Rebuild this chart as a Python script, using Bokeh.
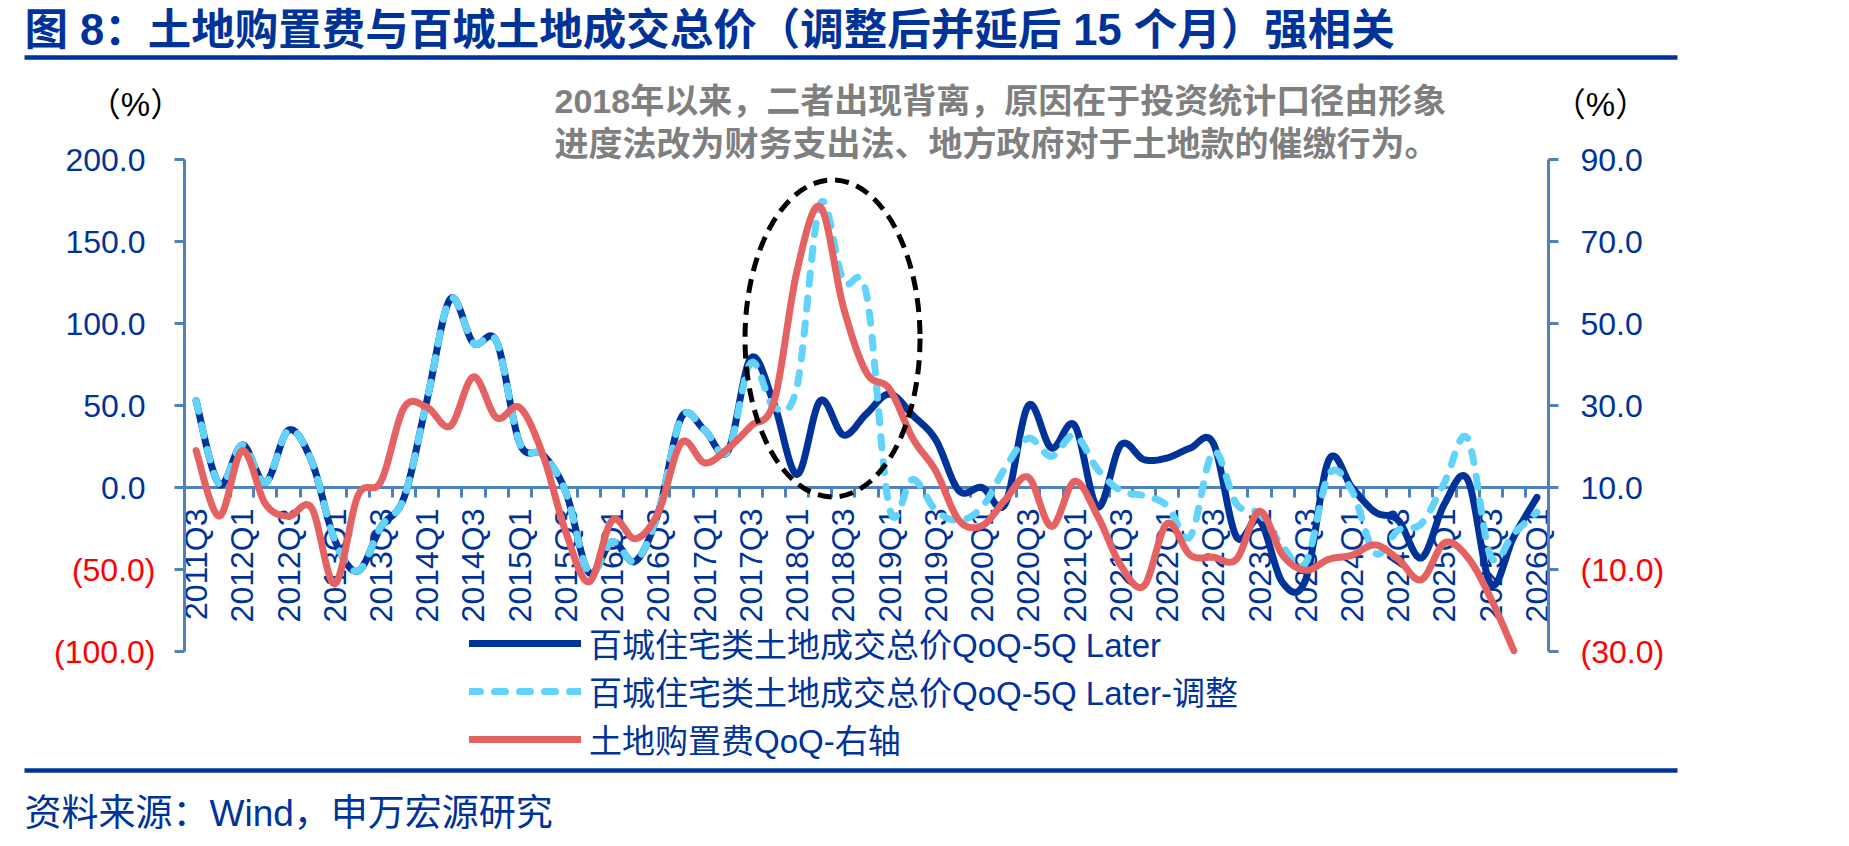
import math
import numpy as np
from bokeh.plotting import figure
from bokeh.models import (Range1d, LinearAxis, FixedTicker, Label, BoxAnnotation,
                          Legend, LegendItem)
from bokeh.embed import file_html
from bokeh.resources import INLINE

# ---------------- data ----------------
quarters = [f"{y}Q{q}" for y in range(2011, 2027) for q in range(1, 5)][2:61]

# 百城住宅类土地成交总价 QoQ, shifted 5 quarters later (%), left axis
land_deal = [53, 2, 26, 3, 35, 16, -32, -51, -24, -6,
             54, 115, 88, 89, 27, 20, -3, -52, -33, -45,
             -15, 43, 35, 22, 79, 51, 8, 53, 32, 45,
             57, 44, 29, -2, 0, -10, 50, 24, 38, -12,
             26, 17, 18, 24, 27, -30, -20, -58, -56, 17,
             0, -15, -20, -43, -10, 5, -59, -30, -6]

# same series, adjusted (%), left axis
land_deal_adj = [53, 2, 26, 3, 35, 16, -32, -51, -24, -6,
                 54, 115, 88, 89, 27, 20, -3, -52, -33, -45,
                 -15, 43, 35, 22, 76, 49, 62, 173, 126, 118,
                 -13, 5, -14, -20, -12, 12, 30, 19, 32, 11,
                 -2, -5, -11, -30, 22, -10, -16, -36, -46, 8,
                 -2, -40, -26, -22, 3, 30, -42, -28, -15]

# 土地购置费 QoQ (%), right axis
land_purchase = [19, 3, 19, 6, 3, 5, -13.5, 8, 11.5, 29.5,
                 29.5, 25, 37, 27, 29.5, 18, -1, -13, 2, -2.5,
                 4, 21, 16, 19.5, 25, 31, 63, 78.5, 54, 38,
                 34, 22, 14, 2, 0.7, 7, 12.5, 0.5, 11.5, 3,
                 -9, -14, 1.2, -6.5, -7, -7.5, 4.2, -6.5, -10.2, -7.5,
                 -6.5, -4, -7.5, -12.5, -3.5, -7, -17, -29.8]

left_ticks = [-100, -50, 0, 50, 100, 150, 200]
right_ticks = [-30, -10, 10, 30, 50, 70, 90]

names = ["百城住宅类土地成交总价QoQ-5Q Later",
         "百城住宅类土地成交总价QoQ-5Q Later-调整",
         "土地购置费QoQ-右轴"]

# ---------------- style ----------------
NAVY = "#003399"
CYAN = "#62D3FB"
RED = "#E46262"
AXIS = "#4F81BD"
LATIN = "Liberation Sans"
MIXED = "Liberation Sans, Noto Sans CJK SC"
LW = 7

W, H = 1849, 846
# plot box on the page (pixels): left, right, top, bottom
BOX_L, BOX_R, BOX_T, BOX_B = 184, 1548, 159, 651


def smooth(xs, ys, steps=14):
    """Cubic Bezier smoothing through every point (Catmull-Rom style)."""
    pts = np.column_stack([xs, ys]).astype(float)
    n = len(pts)
    out = []
    for k in range(n - 1):
        p0 = pts[k - 1] if k > 0 else pts[k]
        p1, p2 = pts[k], pts[k + 1]
        p3 = pts[k + 2] if k + 2 < n else pts[k + 1]
        c1 = p1 + (p2 - p0) / 6.0
        c2 = p2 - (p3 - p1) / 6.0
        for s in range(steps):
            t = s / steps
            b = ((1 - t) ** 3) * p1 + 3 * ((1 - t) ** 2) * t * c1 \
                + 3 * (1 - t) * t * t * c2 + t ** 3 * p2
            out.append(b)
    out.append(pts[-1])
    out = np.array(out)
    return out[:, 0], out[:, 1]


def span_range(lo, hi, px_lo, px_hi, total, flip=False):
    """Range whose [lo, hi] lands on pixels [px_lo, px_hi] of a `total`-pixel canvas."""
    per_px = (hi - lo) / (px_hi - px_lo)
    if flip:   # vertical: pixel 0 at the top
        return Range1d(lo - (total - px_hi) * per_px, hi + px_lo * per_px)
    return Range1d(lo - px_lo * per_px, hi + (total - px_hi) * per_px)


n_cat = len(quarters)
centers = [i + 0.5 for i in range(n_cat)]

p = figure(width=W, height=H, output_backend="svg", toolbar_location=None,
           x_range=span_range(0, n_cat, BOX_L, BOX_R, W),
           y_range=span_range(left_ticks[0], left_ticks[-1], BOX_T, BOX_B, H, flip=True),
           min_border=0)
p.outline_line_color = None
p.grid.visible = False
p.background_fill_color = "white"
p.border_fill_color = "white"
p.extra_y_ranges = {"right": span_range(right_ticks[0], right_ticks[-1], BOX_T, BOX_B, H, flip=True)}

# ---- x axis crossing at zero ----
xa = p.xaxis[0]
xa.fixed_location = 0
xa.bounds = (0, n_cat)
xa.ticker = FixedTicker(ticks=[c for i, c in enumerate(centers) if i % 2 == 0],
                        minor_ticks=list(range(n_cat + 1)))
xa.major_label_overrides = {c: q for i, (c, q) in enumerate(zip(centers, quarters)) if i % 2 == 0}
xa.major_label_orientation = math.pi / 2
xa.major_tick_in = 0
xa.major_tick_out = 0
xa.minor_tick_in = 0
xa.minor_tick_out = 10
xa.minor_tick_line_color = AXIS
xa.minor_tick_line_width = 3
xa.axis_line_color = AXIS
xa.axis_line_width = 3
xa.major_label_standoff = 11
xa.major_label_text_font = LATIN
xa.major_label_text_font_size = "32px"
xa.major_label_text_color = NAVY

# ---- left axis ----
ya = p.yaxis[0]
ya.fixed_location = 0
ya.bounds = (left_ticks[0], left_ticks[-1])
ya.ticker = FixedTicker(ticks=left_ticks, minor_ticks=[])
ya.major_label_overrides = {t: (f"{t:.1f}" if t >= 0 else "") for t in left_ticks}
ya.axis_line_color = AXIS
ya.axis_line_width = 3
ya.major_tick_line_color = AXIS
ya.major_tick_line_width = 3
ya.major_tick_in = 0
ya.major_tick_out = 10
ya.minor_tick_out = 0
ya.major_label_standoff = 29
ya.major_label_text_font = LATIN
ya.major_label_text_font_size = "32px"
ya.major_label_text_color = NAVY

# ---- right axis ----
yr = LinearAxis(y_range_name="right", ticker=FixedTicker(ticks=right_ticks, minor_ticks=[]))
yr.fixed_location = n_cat
yr.bounds = (right_ticks[0], right_ticks[-1])
yr.major_label_overrides = {t: (f"{t:.1f}" if t >= 0 else "") for t in right_ticks}
yr.axis_line_color = AXIS
yr.axis_line_width = 3
yr.major_tick_line_color = AXIS
yr.major_tick_line_width = 3
yr.major_tick_in = 0
yr.major_tick_out = 10
yr.minor_tick_out = 0
yr.major_label_standoff = 22
yr.major_label_text_font = LATIN
yr.major_label_text_font_size = "32px"
yr.major_label_text_color = NAVY
p.add_layout(yr, "right")

# negative tick values in red with accounting brackets
for t in left_ticks:
    if t < 0:
        p.add_layout(Label(x=BOX_L - 29, y=t, x_units="screen", y_units="data",
                           text=f"({abs(t):.1f})", text_align="right", text_baseline="middle",
                           text_font=LATIN, text_font_size="32px", text_color="#FF0000"))
for t in right_ticks:
    if t < 0:
        p.add_layout(Label(x=BOX_R + 32, y=t, x_units="screen", y_units="data",
                           y_range_name="right",
                           text=f"({abs(t):.1f})", text_align="left", text_baseline="middle",
                           text_font=LATIN, text_font_size="32px", text_color="#FF0000"))

# ---- series ----
bx, by = smooth(centers, land_deal)
r_blue = p.line(bx, by, line_color=NAVY, line_width=LW, line_join="round", line_cap="round")
cx, cy = smooth(centers, land_deal_adj)
r_cyan = p.line(cx, cy, line_color=CYAN, line_width=LW, line_dash="11 14", line_cap="round",
                line_join="round")
rx, ry = smooth(centers[:len(land_purchase)], land_purchase)
r_red = p.line(rx, ry, line_color=RED, line_width=LW, line_join="round", line_cap="round",
               y_range_name="right")
for r in (r_blue, r_cyan, r_red):
    r.level = "overlay"

# highlight of the 2018 divergence
r_ell = p.ellipse(x=28.03, y=90.9, width=7.57, height=193.3, fill_color=None,
                  line_color="black", line_width=5, line_dash="14 8")
r_ell.level = "overlay"

# ---- legend below the plot ----
legend = Legend(items=[LegendItem(label=names[0], renderers=[r_blue]),
                       LegendItem(label=names[1], renderers=[r_cyan]),
                       LegendItem(label=names[2], renderers=[r_red])],
                location=(469, H - 763), orientation="vertical",
                glyph_width=112, glyph_height=20, label_height=40, spacing=0,
                padding=0, margin=0, label_standoff=8,
                border_line_color=None, background_fill_alpha=0,
                label_text_font=MIXED, label_text_font_size="33px",
                label_text_color=NAVY)
p.add_layout(legend)

# ---- titles, notes and rules (screen units: origin bottom-left) ----
p.add_layout(Label(x=24, y=H - 29, x_units="screen", y_units="screen",
                   text="图 8：土地购置费与百城土地成交总价（调整后并延后 15 个月）强相关",
                   text_font=MIXED, text_font_size="43.5px", text_font_style="bold",
                   text_color=NAVY, text_baseline="middle"))
for yc in (57, 770):
    p.add_layout(BoxAnnotation(left=24, right=1677, top=H - yc + 2.3, bottom=H - yc - 2.3,
                               left_units="screen", right_units="screen",
                               top_units="screen", bottom_units="screen",
                               fill_color=NAVY, fill_alpha=1, line_color=None))

note_lines = ["2018年以来，二者出现背离，原因在于投资统计口径由形象",
              "进度法改为财务支出法、地方政府对于土地款的催缴行为。"]
for k, line in enumerate(note_lines):
    p.add_layout(Label(x=554, y=H - 100 - 43 * k, x_units="screen", y_units="screen",
                       text=line, text_font=MIXED, text_font_size="34px",
                       text_font_style="bold", text_color="#7F7F7F",
                       text_baseline="middle"))

for xpos in (135, 1600):
    p.add_layout(Label(x=xpos, y=H - 104, x_units="screen", y_units="screen",
                       text="（%）", text_font=MIXED, text_font_size="33px",
                       text_color="black", text_align="center", text_baseline="middle"))

p.add_layout(Label(x=24, y=H - 813, x_units="screen", y_units="screen",
                   text="资料来源：Wind，申万宏源研究", text_font=MIXED,
                   text_font_size="37px", text_color=NAVY, text_baseline="middle"))

open("out.html", "w").write(file_html(p, INLINE))
